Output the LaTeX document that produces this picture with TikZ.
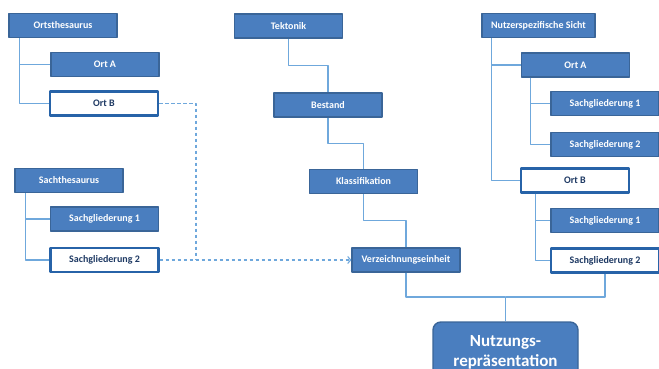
\documentclass[tikz,border=0pt]{standalone}
\usepackage{fontspec}
\setmainfont{Carlito}
\usepackage{tikz}
\usetikzlibrary{arrows.meta,calc}
\definecolor{boxblue}{HTML}{4A7EBF}
\definecolor{edgeblue}{HTML}{3A6598}
\definecolor{darkblue}{HTML}{2763A8}
\definecolor{navy}{HTML}{1F3A64}
\definecolor{lineblue}{HTML}{6FA8DC}
\tikzset{
  every picture/.style={line join=round, >=Stealth},
  box/.style={draw=edgeblue, fill=boxblue, line width=1.2pt, text=white,
    minimum width=108pt, minimum height=24pt, inner sep=0pt,
    font=\fontsize{10}{12}\selectfont\bfseries},
  openbox/.style={box, draw=darkblue, fill=white, line width=2.2pt, text=navy},
  bigbox/.style={draw=edgeblue, fill=boxblue, line width=1.4pt, text=white,
    rounded corners=8pt, minimum width=145pt, minimum height=60pt, inner sep=0pt,
    align=center, font=\fontsize{17}{20}\selectfont\bfseries},
  link/.style={draw=lineblue, line width=1.1pt},
  dashlink/.style={draw=lineblue, line width=1.1pt, dash pattern=on 3.5pt off 2.5pt},
}

\begin{document}
\begin{tikzpicture}[x=1pt,y=-1pt]
\useasboundingbox (0,0) rectangle (659,369);
\node[box] (orte) at (63,25.5) {Ortsthesaurus};
\node[box] (ortA) at (105,64.5) {Ort A};
\node[openbox] (ortB) at (104,103.5) {Ort B};
\node[box] (sach) at (69,180.5) {Sachthesaurus};
\node[box] (sgl1) at (104.5,219) {Sachgliederung 1};
\node[openbox] (sgl2) at (104.5,260) {Sachgliederung 2};
\node[box] (tek) at (288.5,26) {Tektonik};
\node[box] (bestand) at (328,105) {Bestand};
\node[box] (klass) at (363.5,181.5) {Klassifikation};
\node[box] (verz) at (406,260) {Verzeichnungseinheit};
\node[box, minimum width=113pt] (sicht) at (538.5,25.5) {Nutzerspezifische Sicht};
\node[box] (rortA) at (575.5,65) {Ort A};
\node[box] (rsglA) at (605,103.5) {Sachgliederung 1};
\node[box] (rsglB) at (605,144.5) {Sachgliederung 2};
\node[openbox] (rortB) at (575,180.5) {Ort B};
\node[box] (rsglC) at (605,220.5) {Sachgliederung 1};
\node[openbox] (rsglD) at (605,260.5) {Sachgliederung 2};
\node[bigbox] (nutz) at (505.5,352) {Nutzungs-\\repräsentation};
\coordinate (join) at (505.5,297);
\coordinate (bend) at (196,260);

\draw[link] (orte.south west) ++(11,0) |- (ortA.west);
\draw[link] (orte.south west) ++(11,0) |- (ortB.west);
\draw[link] (sach.south west) ++(11,0) |- (sgl1.west);
\draw[link] (sach.south west) ++(11,0) |- (sgl2.west);
\draw[link] (sicht.south west) ++(10,0) |- (rortA.west);
\draw[link] (sicht.south west) ++(10,0) |- (rortB.west);
\draw[link] (rortA.south west) ++(10,0) |- (rsglA.west);
\draw[link] (rortA.south west) ++(10,0) |- (rsglB.west);
\draw[link] (rortB.south west) ++(16,0) |- (rsglC.west);
\draw[link] (rortB.south west) ++(16,0) |- (rsglD.west);

\draw[link] (tek.south) |- ($(tek.south)!.5!(bestand.north)$) -| (bestand.north);
\draw[link] (bestand.south) |- ($(bestand.south)!.5!(klass.north)$) -| (klass.north);
\draw[link] (klass.south) |- ($(klass.south)!.5!(verz.north)$) -| (verz.north);
\draw[link] (verz.south) |- (join) -- (nutz.north);
\draw[link] (rsglD.south) |- (join);

\draw[dashlink] (ortB.east) -| (bend);
\draw[dashlink, -{Straight Barb[length=3pt,width=7pt]}] (sgl2.east) -- (verz.west);
\end{tikzpicture}
\end{document}
